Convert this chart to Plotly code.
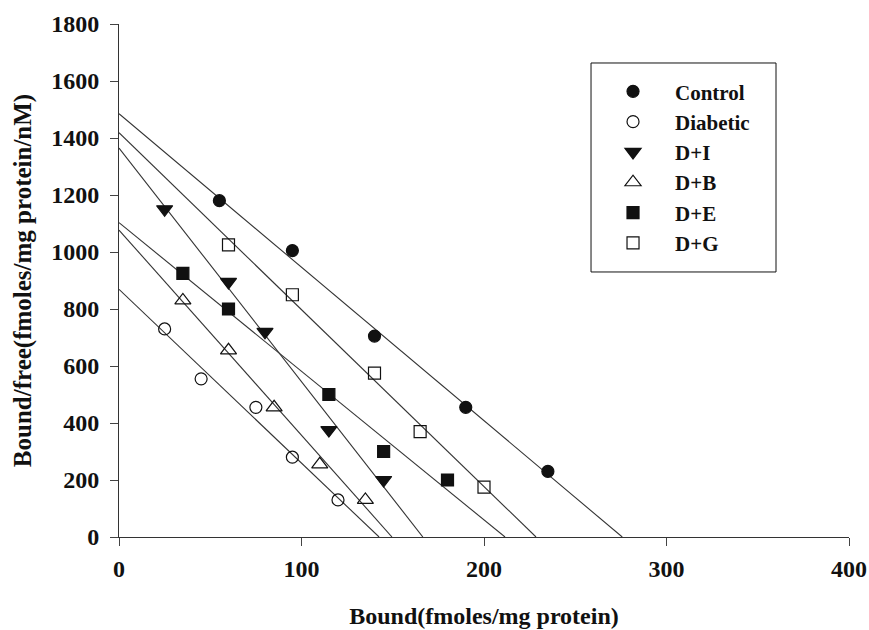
import numpy as np
import plotly.graph_objects as go

# ---- data ----
series_names = ["Control", "Diabetic", "D+I", "D+B", "D+E", "D+G"]
control_x = [55, 95, 140, 190, 235]
control_y = [1180, 1005, 705, 455, 230]
diabetic_x = [25, 45, 75, 95, 120]
diabetic_y = [730, 555, 455, 280, 130]
di_x = [25, 60, 80, 115, 145]
di_y = [1150, 895, 720, 375, 200]
db_x = [35, 60, 85, 110, 135]
db_y = [830, 655, 455, 255, 130]
de_x = [35, 60, 115, 145, 180]
de_y = [925, 800, 500, 300, 200]
dg_x = [60, 95, 140, 165, 200]
dg_y = [1025, 850, 575, 370, 175]

x_ticks = [0, 100, 200, 300, 400]
y_ticks = [0, 200, 400, 600, 800, 1000, 1200, 1400, 1600, 1800]

xs = [control_x, diabetic_x, di_x, db_x, de_x, dg_x]
ys = [control_y, diabetic_y, di_y, db_y, de_y, dg_y]
symbols = ["circle", "circle-open", "triangle-down", "triangle-up-open", "square", "square-open"]
sizes = [12, 12, 14, 14, 12, 12]

FONT = "Liberation Serif"
fig = go.Figure()

# regression lines (Scatchard fits), drawn from x=0 to the x-intercept
for x, y in zip(xs, ys):
    m, b = np.polyfit(x, y, 1)
    xint = -b / m
    fig.add_trace(go.Scatter(x=[0, xint], y=[b, 0], mode="lines",
                             line=dict(color="#333333", width=1.1),
                             showlegend=False, hoverinfo="skip"))

for name, x, y, sym, sz in zip(series_names, xs, ys, symbols, sizes):
    fig.add_trace(go.Scatter(x=x, y=y, mode="markers", name=name,
                             marker=dict(symbol=sym, size=sz, color="#111111",
                                         line=dict(color="#111111", width=1.2))))

# legend frame
fig.add_shape(type="rect", xref="paper", yref="paper",
              x0=0.6466, x1=0.9, y0=0.5166, y1=0.924,
              line=dict(color="#111111", width=1), fillcolor="rgba(0,0,0,0)")

fig.update_layout(
    width=869, height=630,
    margin=dict(l=119, r=20, t=24, b=93),
    plot_bgcolor="white", paper_bgcolor="white",
    font=dict(family=FONT, size=24, color="#111111"),
    legend=dict(x=0.6466, y=0.908, xanchor="left", yanchor="top",
                borderwidth=0,
                font=dict(family=FONT, size=21, color="#111111", weight="bold"),
                itemwidth=74, bgcolor="rgba(0,0,0,0)"),
    xaxis=dict(range=[0, 400], tickvals=x_ticks, ticks="outside", ticklen=8,
               ticklabelstandoff=2, automargin=False,
               showline=True, linecolor="#333333", linewidth=1, showgrid=False,
               zeroline=False, tickfont=dict(family=FONT, size=24, weight="bold"),
               title=dict(text="<b>Bound(fmoles/mg protein)</b>", standoff=26,
                          font=dict(family=FONT, size=24))),
    yaxis=dict(range=[0, 1800], tickvals=y_ticks, ticks="outside", ticklen=8,
               ticklabelstandoff=6, automargin=False,
               showline=True, linecolor="#333333", linewidth=1, showgrid=False,
               zeroline=False, tickfont=dict(family=FONT, size=24, weight="bold"),
               title=dict(text="<b>Bound/free(fmoles/mg protein/nM)</b>", standoff=12,
                          font=dict(family=FONT, size=25))),
)

fig.write_html("out.html", config={"displayModeBar": False},
               post_script="document.body.style.margin='0';")
